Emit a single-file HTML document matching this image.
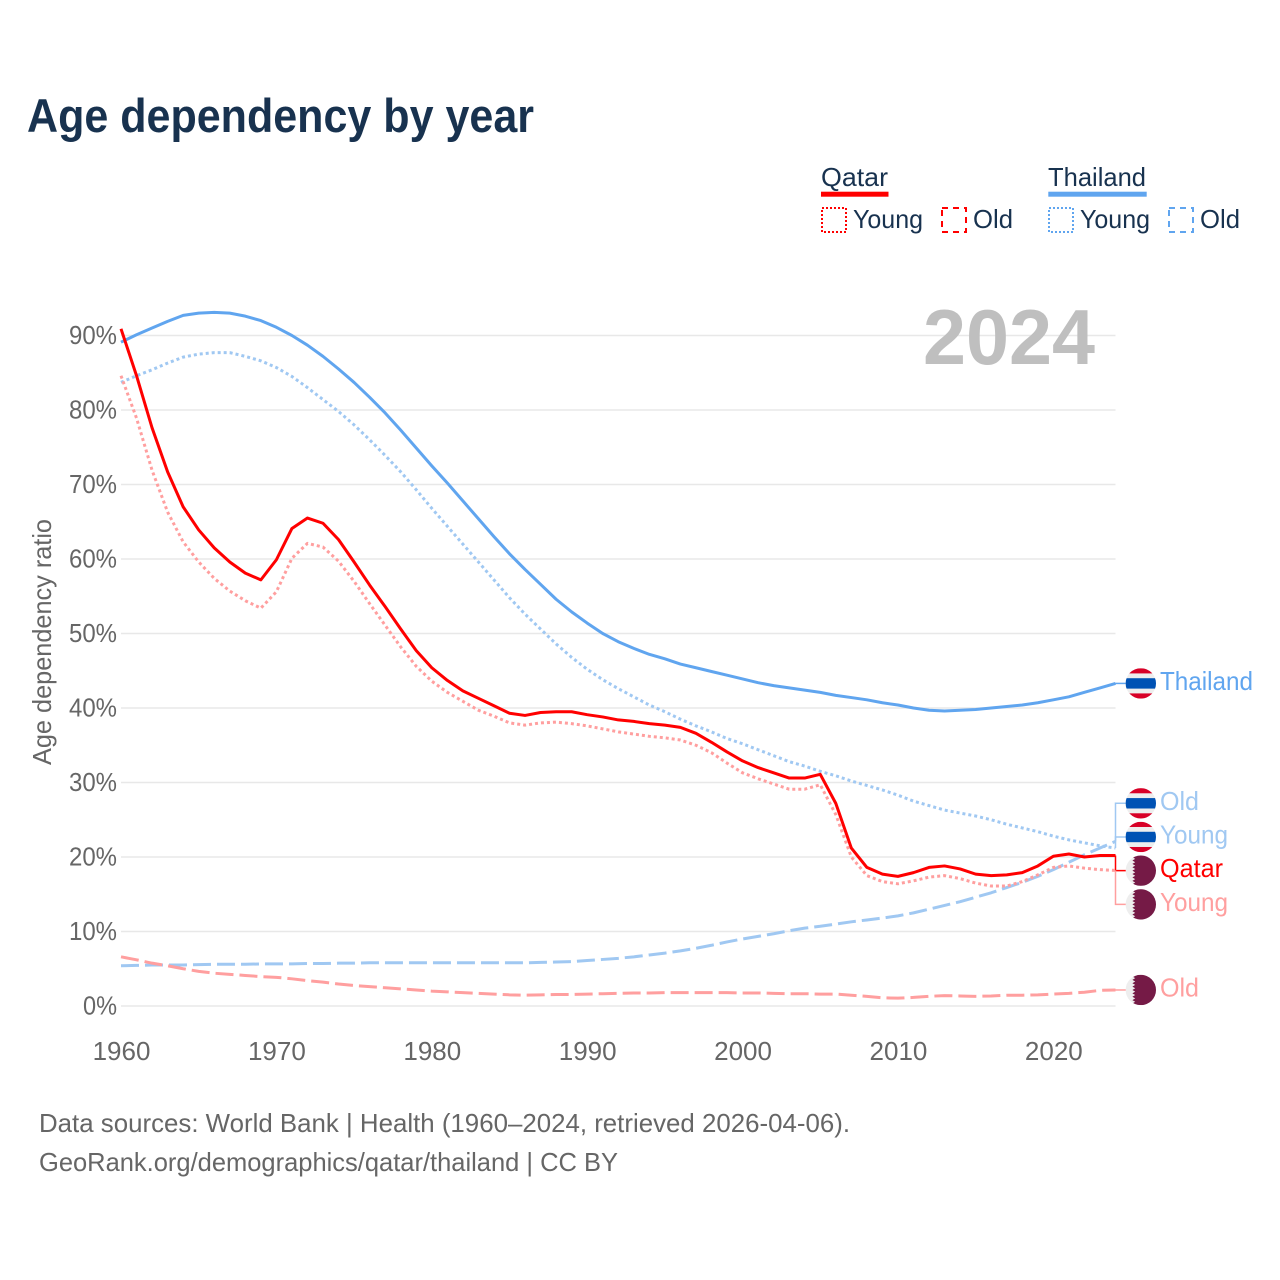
<!DOCTYPE html>
<html lang="en">
<head>
<meta charset="utf-8">
<title>Age dependency by year</title>
<style>
html,body{margin:0;padding:0;background:#fff;}
svg{display:block;font-family:"Liberation Sans",sans-serif;}
</style>
</head>
<body>
<svg id="chart" xmlns="http://www.w3.org/2000/svg" width="1280" height="1280" viewBox="0 0 1280 1280">
  <rect x="0" y="0" width="1280" height="1280" fill="#ffffff"/>
  <text x="27" y="132" font-size="47" font-weight="700" fill="#18324f" textLength="507" lengthAdjust="spacingAndGlyphs">Age dependency by year</text>

  <g font-size="26" fill="#18324f">
    <text x="821" y="186" textLength="67" lengthAdjust="spacingAndGlyphs">Qatar</text>
    <rect x="821" y="191.7" width="67.5" height="5" fill="#ff0000"/>
    <rect x="822" y="208" width="24" height="24" fill="none" stroke="#ff0000" stroke-width="2" stroke-dasharray="2 2"/>
    <text x="853" y="228" textLength="70" lengthAdjust="spacingAndGlyphs">Young</text>
    <rect x="942" y="208" width="24" height="24" fill="none" stroke="#ff0000" stroke-width="2" stroke-dasharray="6 5"/>
    <text x="973" y="228" textLength="40" lengthAdjust="spacingAndGlyphs">Old</text>

    <text x="1048" y="186" textLength="98" lengthAdjust="spacingAndGlyphs">Thailand</text>
    <rect x="1048.3" y="191.7" width="98.4" height="5" fill="#60a5ef"/>
    <rect x="1049" y="208" width="24" height="24" fill="none" stroke="#60a5ef" stroke-width="2" stroke-dasharray="2 2"/>
    <text x="1080" y="228" textLength="70" lengthAdjust="spacingAndGlyphs">Young</text>
    <rect x="1169" y="208" width="24" height="24" fill="none" stroke="#60a5ef" stroke-width="2" stroke-dasharray="6 5"/>
    <text x="1200" y="228" textLength="40" lengthAdjust="spacingAndGlyphs">Old</text>
  </g>

  <text transform="translate(51,642) rotate(-90)" text-anchor="middle" font-size="26" fill="#666666" textLength="246" lengthAdjust="spacingAndGlyphs">Age dependency ratio</text>

  <g id="grid"></g>
  <g id="yticks"></g>
  <g id="xticks"></g>

  <text x="923" y="364" font-size="78" font-weight="700" fill="#bfbfbf" textLength="172" lengthAdjust="spacingAndGlyphs">2024</text>

  <g id="connectors"></g>
  <g id="series"></g>
  <g id="endlabels"></g>

  <g font-size="26" fill="#666666">
    <text x="39" y="1132" textLength="811" lengthAdjust="spacingAndGlyphs">Data sources: World Bank | Health (1960–2024, retrieved 2026-04-06).</text>
    <text x="39" y="1171" textLength="579" lengthAdjust="spacingAndGlyphs">GeoRank.org/demographics/qatar/thailand | CC BY</text>
  </g>
</svg>

<script>
const firstYear = 1960;
const lastYear = 2024;
const yTickValues = [0, 10, 20, 30, 40, 50, 60, 70, 80, 90];
const xTickValues = [1960, 1970, 1980, 1990, 2000, 2010, 2020];

const thailandTotal = [
  89.1,90.1,91.0,91.9,92.7,93.0,93.1,93.0,92.6,92.0,
  91.1,90.0,88.7,87.2,85.5,83.7,81.7,79.6,77.3,74.9,
  72.5,70.2,67.8,65.4,63.0,60.7,58.6,56.6,54.6,52.9,
  51.4,50.0,48.9,48.0,47.2,46.6,45.9,45.4,44.9,44.4,
  43.9,43.4,43.0,42.7,42.4,42.1,41.7,41.4,41.1,40.7,
  40.4,40.0,39.7,39.6,39.7,39.8,40.0,40.2,40.4,40.7,
  41.1,41.5,42.1,42.7,43.3];
const thailandYoung = [
  83.7,84.6,85.4,86.3,87.1,87.5,87.7,87.7,87.2,86.6,
  85.7,84.5,83.0,81.4,79.8,78.0,76.0,73.9,71.7,69.3,
  66.8,64.4,62.0,59.6,57.2,54.8,52.6,50.6,48.6,46.8,
  45.2,43.8,42.6,41.5,40.4,39.5,38.5,37.6,36.8,35.9,
  35.2,34.4,33.6,32.8,32.2,31.5,30.9,30.2,29.6,29.0,
  28.3,27.5,26.9,26.3,25.9,25.5,25.0,24.4,23.9,23.4,
  22.8,22.3,21.9,21.5,21.2];
const thailandOld = [
  5.4,5.45,5.5,5.5,5.5,5.55,5.6,5.6,5.6,5.65,
  5.65,5.65,5.7,5.7,5.75,5.75,5.8,5.8,5.8,5.8,
  5.8,5.8,5.8,5.8,5.8,5.8,5.8,5.85,5.9,5.95,
  6.1,6.25,6.4,6.6,6.85,7.1,7.4,7.75,8.15,8.6,
  9.0,9.35,9.7,10.1,10.45,10.7,11.0,11.3,11.55,11.8,
  12.1,12.5,13.0,13.5,14.0,14.6,15.2,15.9,16.6,17.4,
  18.3,19.3,20.3,21.2,22.1];
const qatarTotal = [
  90.9,84.6,77.6,71.7,67.0,63.9,61.5,59.6,58.1,57.2,
  59.9,64.1,65.5,64.8,62.6,59.6,56.5,53.6,50.6,47.7,
  45.4,43.7,42.3,41.3,40.3,39.3,39.0,39.4,39.5,39.5,
  39.1,38.8,38.4,38.2,37.9,37.7,37.4,36.6,35.4,34.1,
  32.9,32.0,31.3,30.6,30.6,31.1,27.2,21.2,18.6,17.7,
  17.4,17.9,18.6,18.8,18.4,17.7,17.5,17.6,17.9,18.8,
  20.1,20.4,20.0,20.2,20.2];
const qatarYoung = [
  84.6,78.9,71.9,66.3,62.3,59.6,57.4,55.7,54.4,53.4,
  55.6,60.1,62.1,61.6,59.7,57.0,54.0,51.1,48.2,45.6,
  43.6,42.1,40.9,39.7,38.9,38.0,37.7,38.0,38.1,37.9,
  37.6,37.2,36.8,36.5,36.2,36.0,35.7,35.0,34.0,32.6,
  31.3,30.5,29.8,29.1,29.1,29.7,25.7,20.0,17.5,16.7,
  16.4,16.8,17.3,17.5,17.1,16.5,16.1,16.1,16.7,17.6,
  18.6,18.8,18.5,18.3,18.2];
const qatarOld = [
  6.6,6.2,5.75,5.4,5.0,4.65,4.4,4.25,4.1,3.95,
  3.85,3.65,3.4,3.2,2.95,2.75,2.6,2.45,2.3,2.15,
  2.0,1.9,1.8,1.7,1.6,1.5,1.45,1.5,1.55,1.55,
  1.6,1.65,1.7,1.75,1.75,1.8,1.8,1.8,1.8,1.8,
  1.75,1.75,1.7,1.65,1.65,1.6,1.6,1.45,1.3,1.1,
  1.05,1.15,1.3,1.4,1.35,1.3,1.35,1.45,1.45,1.5,
  1.6,1.7,1.85,2.1,2.15];

const SVG_NS = 'http://www.w3.org/2000/svg';
const plotLeft = 121, plotRight = 1115.5, zeroY = 1006, pxPerPercent = 7.45;
const xScale = function (year) { return plotLeft + (year - firstYear) * (plotRight - plotLeft) / (lastYear - firstYear); };
const yScale = function (value) { return zeroY - value * pxPerPercent; };

function make(tag, attrs, parent) {
  const el = document.createElementNS(SVG_NS, tag);
  for (const k in attrs) el.setAttribute(k, attrs[k]);
  parent.appendChild(el);
  return el;
}

const gridLayer = document.getElementById('grid');
const yTickLayer = document.getElementById('yticks');
yTickValues.forEach(function (v) {
  const line = make('line', {x1: plotLeft, x2: plotRight, y1: yScale(v), y2: yScale(v), stroke: '#e8e8e8', 'stroke-width': 1.5}, gridLayer);
  
  
  const t = make('text', {x: 117, y: yScale(v) + 8.5, 'text-anchor': 'end', 'font-size': 26, fill: '#666666', textLength: v === 0 ? 34 : 48, lengthAdjust: 'spacingAndGlyphs'}, yTickLayer);
  
  
  t.textContent = v + '%';
});

const xTickLayer = document.getElementById('xticks');
xTickValues.forEach(function (year) {
  const t = make('text', {x: xScale(year) + 0.5, y: 1060, 'text-anchor': 'middle', 'font-size': 26, fill: '#666666'}, xTickLayer);
  
  
  t.textContent = year;
});

function linePath(values) {
  return values.map(function (v, i) {
    return (i ? 'L' : 'M') + xScale(firstYear + i).toFixed(2) + ' ' + yScale(v).toFixed(2);
  }).join(' ');
}

const seriesLayer = document.getElementById('series');
function drawSeries(values, color, dash, name) {
  const attrs = {d: linePath(values), fill: 'none', stroke: color, 'stroke-width': 3, 'stroke-linejoin': 'round'};
  if (dash) attrs['stroke-dasharray'] = dash;
  const p = make('path', attrs, seriesLayer);
  
  
}
const lightBlue = '#a0c8f2', lightRed = '#ff9f9f', blue = '#60a5ef', red = '#ff0000';
drawSeries(thailandOld, lightBlue, '18 6', 'thailand-old-line');
drawSeries(qatarOld, lightRed, '18 6', 'qatar-old-line');
drawSeries(thailandYoung, lightBlue, '3 3', 'thailand-young-line');
drawSeries(qatarYoung, lightRed, '3 3', 'qatar-young-line');
drawSeries(thailandTotal, blue, null, 'thailand-total-line');
drawSeries(qatarTotal, red, null, 'qatar-total-line');

/* End labels: placed by a small dodge so overlapping labels spread apart */
const endEntries = [
  {text: 'Thailand', country: 'th', color: blue, width: 93, values: thailandTotal},
  {text: 'Old', country: 'th', color: lightBlue, width: 39, values: thailandOld},
  {text: 'Young', country: 'th', color: lightBlue, width: 68, values: thailandYoung},
  {text: 'Qatar', country: 'qa', color: red, width: 63, values: qatarTotal},
  {text: 'Young', country: 'qa', color: lightRed, width: 68, values: qatarYoung},
  {text: 'Old', country: 'qa', color: lightRed, width: 39, values: qatarOld}
];
endEntries.forEach(function (e) { e.endY = yScale(e.values[e.values.length - 1]); });
endEntries.sort(function (a, b) { return a.endY - b.endY; });

const labelGap = 33.7;
let clusters = endEntries.map(function (e) { return {items: [e], sum: e.endY}; });
let merged = true;
function clusterTop(c) { return c.sum / c.items.length - (c.items.length - 1) * labelGap / 2; }
function clusterBottom(c) { return c.sum / c.items.length + (c.items.length - 1) * labelGap / 2; }
while (merged) {
  merged = false;
  for (let i = 0; i < clusters.length - 1; i++) {
    if (clusterBottom(clusters[i]) + labelGap > clusterTop(clusters[i + 1])) {
      clusters[i].items = clusters[i].items.concat(clusters[i + 1].items);
      clusters[i].sum += clusters[i + 1].sum;
      clusters.splice(i + 1, 1);
      merged = true;
      break;
    }
  }
}
clusters.forEach(function (c) {
  const top = clusterTop(c);
  c.items.forEach(function (e, i) { e.labelY = top + i * labelGap; });
});

const connectorLayer = document.getElementById('connectors');
const labelLayer = document.getElementById('endlabels');
const flagX = 1140.8, flagR = 15.2;
let clipCount = 0;

function drawFlag(country, cy, parent) {
  clipCount += 1;
  const id = 'flag-clip-' + clipCount;
  const clip = make('clipPath', {id: id}, parent);
  make('circle', {cx: flagX, cy: cy, r: flagR}, clip);
  const g = make('g', {'clip-path': 'url(#' + id + ')'}, parent);
  
  
  make('rect', {x: flagX - flagR, y: cy - flagR, width: flagR * 2, height: flagR * 2, fill: '#eeeeee'}, g);
  if (country === 'th') {
    make('rect', {x: flagX - flagR, y: cy - flagR, width: flagR * 2, height: 5.2, fill: '#d80027'}, g);
    make('rect', {x: flagX - flagR, y: cy - 5.2, width: flagR * 2, height: 10.4, fill: '#0052b4'}, g);
    make('rect', {x: flagX - flagR, y: cy + flagR - 5.2, width: flagR * 2, height: 5.2, fill: '#d80027'}, g);
  } else {
    const teeth = 9, toothH = flagR * 2 / teeth;
    const pts = [(flagX + flagR) + ',' + (cy - flagR)];
    for (let i = 0; i < teeth; i++) {
      pts.push((flagX - 5.6) + ',' + (cy - flagR + i * toothH));
      pts.push((flagX - 8.4) + ',' + (cy - flagR + (i + 0.5) * toothH));
    }
    pts.push((flagX - 5.6) + ',' + (cy + flagR));
    pts.push((flagX + flagR) + ',' + (cy + flagR));
    make('polygon', {points: pts.join(' '), fill: '#751a46'}, g);
  }
}

endEntries.forEach(function (e) {
  const link = make('path', {
    d: 'M' + plotRight + ' ' + e.endY.toFixed(2) + ' L' + plotRight + ' ' + e.labelY.toFixed(2) + ' L1126 ' + e.labelY.toFixed(2),
    fill: 'none', stroke: e.color, 'stroke-width': 1.5
  }, connectorLayer);
  
  

  drawFlag(e.country, e.labelY, labelLayer);

  const t = make('text', {x: 1160, y: e.labelY + 6.5, 'font-size': 26, fill: e.color, textLength: e.width, lengthAdjust: 'spacingAndGlyphs'}, labelLayer);
  
  
  t.textContent = e.text;
});
</script>
</body>
</html>
